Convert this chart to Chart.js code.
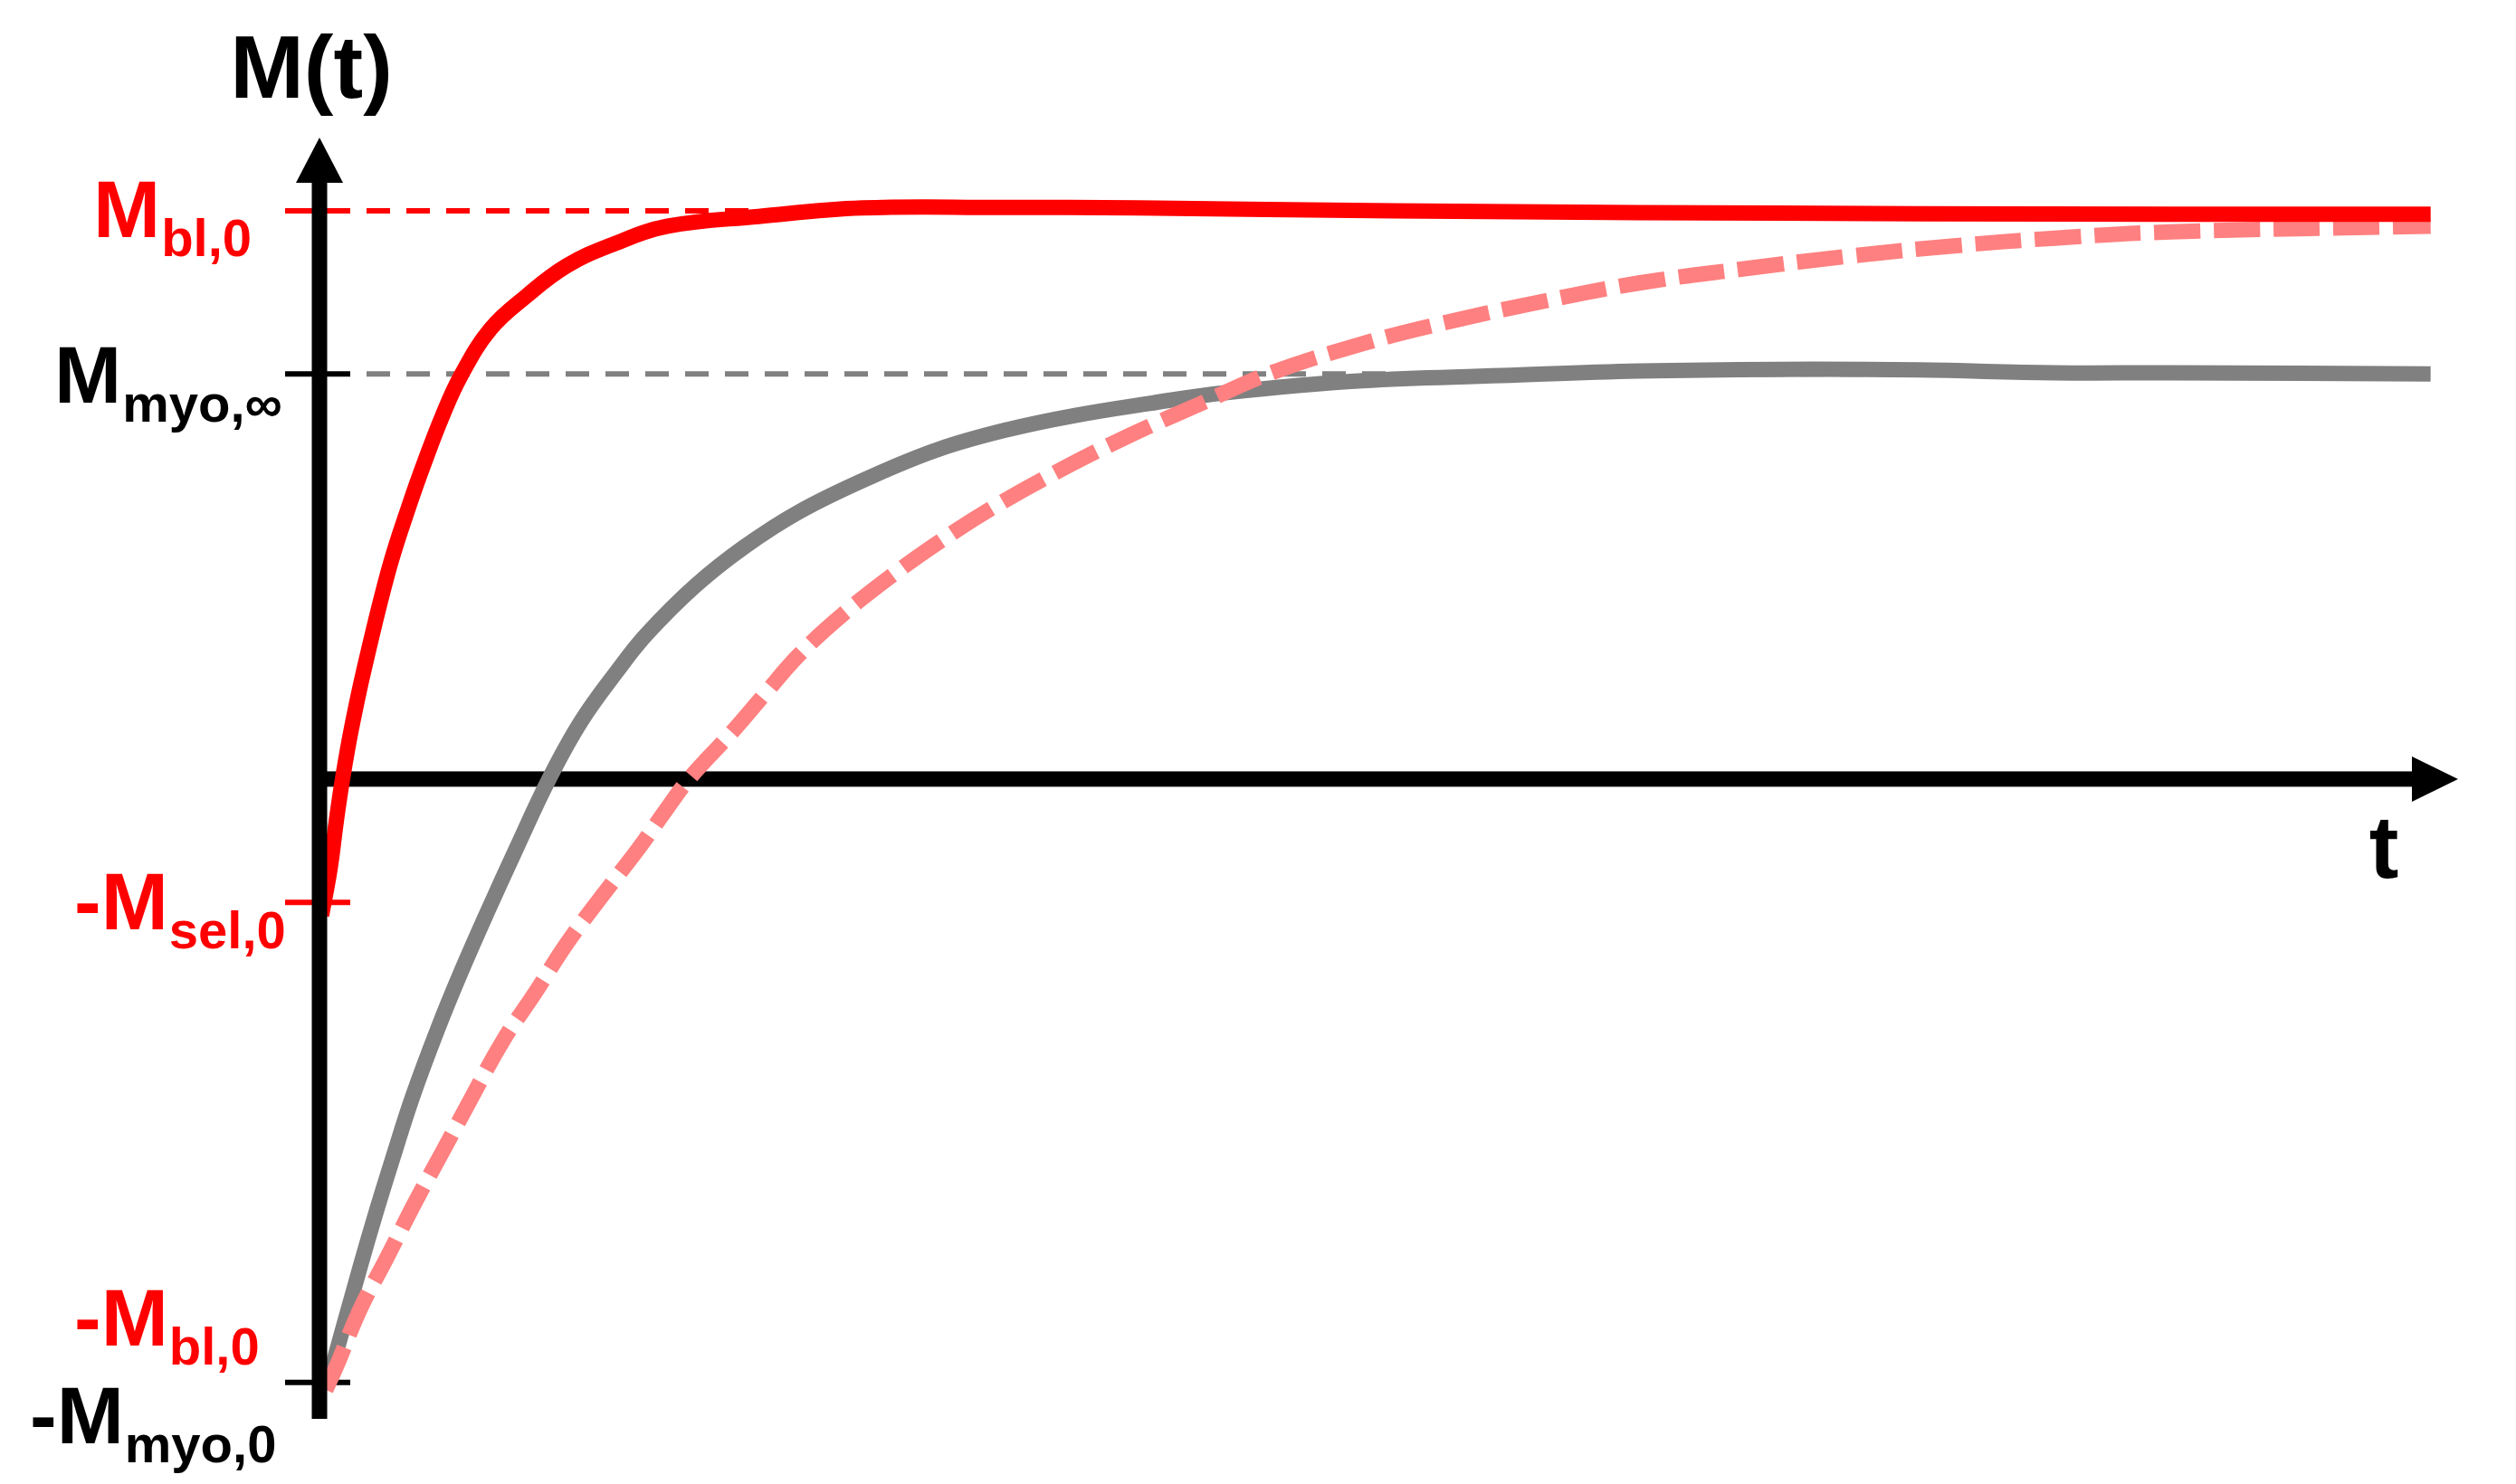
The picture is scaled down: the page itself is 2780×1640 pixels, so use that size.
<!DOCTYPE html>
<html>
<head>
<meta charset="utf-8">
<title>M(t)</title>
<script src="https://cdn.jsdelivr.net/npm/chart.js@4.4.1/dist/chart.umd.min.js"></script>
<style>
    html, body { margin: 0; padding: 0; background: #fff; }
    canvas { display: block; }
</style>
</head>
<body>
<canvas id="mChart" width="2780" height="1640"></canvas>
<script>
// Time in arbitrary units (curves end at t = 10), M normalised so that M_bl,0 = 1

// Blood, red solid
const bloodT = [0.01, 0.05, 0.08, 0.11, 0.15, 0.21, 0.33, 0.43, 0.50, 0.58, 0.67, 0.81, 0.98, 1.17, 1.39, 1.65, 2.08, 2.57, 3.22, 3.88, 5.09, 6.25, 7.57, 8.77, 10.0];
const bloodM = [-0.24, -0.158, -0.073, 0.002, 0.086, 0.191, 0.371, 0.487, 0.56, 0.637, 0.71, 0.792, 0.850, 0.903, 0.941, 0.973, 0.990, 1.005, 1.006, 1.005, 1.000, 0.997, 0.995, 0.994, 0.994];

// Myocardium, grey solid
const myoT = [0.04, 0.19, 0.27, 0.35, 0.44, 0.56, 0.67, 0.80, 0.93, 1.09, 1.24, 1.41, 1.55, 1.78, 2.01, 2.27, 2.60, 2.93, 3.26, 3.58, 3.93, 4.29, 4.94, 5.60, 6.25, 6.91, 7.57, 8.22, 8.77, 10.0];
const myoM = [-1.062, -0.862, -0.760, -0.664, -0.56, -0.44, -0.34, -0.23, -0.124, 0.002, 0.102, 0.19, 0.255, 0.34, 0.408, 0.470, 0.530, 0.580, 0.615, 0.640, 0.661, 0.680, 0.701, 0.710, 0.718, 0.721, 0.720, 0.715, 0.715, 0.713];

// Blood after selective inversion, pink dashed
const selT = [0.03, 0.09, 0.19, 0.32, 0.45, 0.59, 0.72, 0.87, 1.02, 1.17, 1.34, 1.52, 1.64, 1.75, 1.95, 2.11, 2.27, 2.47, 2.70, 2.93, 3.19, 3.52, 3.85, 4.17, 4.51, 4.94, 5.27, 5.76, 6.25, 6.75, 7.24, 7.73, 8.22, 8.77, 10.0];
const selM = [-1.075, -1.025, -0.935, -0.842, -0.747, -0.651, -0.561, -0.460, -0.377, -0.290, -0.205, -0.118, -0.055, 0.0, 0.081, 0.150, 0.218, 0.287, 0.355, 0.416, 0.478, 0.546, 0.607, 0.660, 0.715, 0.766, 0.798, 0.838, 0.873, 0.898, 0.920, 0.938, 0.952, 0.963, 0.973];

// Marked levels on the M axis
const tickValues = [1, 0.713, -0.217, -1.062];
const tickColors = ['#ff0000', '#000000', '#ff0000', '#000000'];

// Dashed guides at the steady states
const guideValues = [1, 0.713];
const guideColors = ['#ff0000', '#808080'];

// Level labels: main part, subscript, level, colour
const labelMain = ['M', 'M', '-M', '-M', '-M'];
const labelSub = ['bl,0', 'myo,\u221e', 'sel,0', 'bl,0', 'myo,0'];
const labelLevel = [1, 0.713, -0.217, -1.062, -1.062];
const labelColors = ['#ff0000', '#000000', '#ff0000', '#ff0000', '#000000'];

const X_MAX = 10.13;
const Y_MIN = -1.126;
const Y_MAX = 1.129;

function toPoints(xs, ys) {
    return xs.map((t, i) => ({ x: t, y: ys[i] }));
}

// label placement (pixels from the M axis / level line)
const labelLeft = [-250, -293, -271, -271, -320];
const labelDy = [29, 32, 30, -41, 67];

const FONT = '"Liberation Sans", Arial, sans-serif';

/**
 * Hand drawn style axes with arrow heads, ticks, guides and labels
 */
const sketchAxes = {
    id: 'sketchAxes',
    beforeDatasetsDraw(chart) {
        const { ctx, chartArea, scales: { x, y } } = chart;
        const x0 = x.getPixelForValue(0);
        const y0 = y.getPixelForValue(0);
        const xEnd = x.getPixelForValue(10);

        ctx.save();

        // dashed guides
        ctx.lineWidth = 6;
        ctx.setLineDash([26, 18]);
        guideValues.forEach((v, i) => {
            const py = y.getPixelForValue(v);
            ctx.strokeStyle = guideColors[i];
            ctx.beginPath();
            ctx.moveTo(x0 + 52, py);
            ctx.lineTo(xEnd, py);
            ctx.stroke();
        });
        ctx.setLineDash([]);

        // ticks
        tickValues.forEach((v, i) => {
            const py = y.getPixelForValue(v);
            ctx.strokeStyle = tickColors[i];
            ctx.beginPath();
            ctx.moveTo(x0 - 38, py);
            ctx.lineTo(x0 + 34, py);
            ctx.stroke();
        });

        // t axis with arrow
        const tip = chartArea.right;
        ctx.fillStyle = '#000';
        ctx.fillRect(x0, y0 - 8.5, tip - 51 - x0, 17);
        ctx.beginPath();
        ctx.moveTo(tip, y0);
        ctx.lineTo(tip - 51, y0 - 25);
        ctx.lineTo(tip - 51, y0 + 25);
        ctx.closePath();
        ctx.fill();

        // axis titles
        ctx.textBaseline = 'alphabetic';
        ctx.textAlign = 'center';
        ctx.font = 'bold 98px ' + FONT;
        ctx.fillText('M(t)', x0 - 9, chartArea.top - 44);
        ctx.fillText('t', tip - 82, y0 + 109);

        // level labels with subscripts
        ctx.textAlign = 'left';
        labelMain.forEach((main, i) => {
            const px = x0 + labelLeft[i];
            const py = y.getPixelForValue(labelLevel[i]) + labelDy[i];
            ctx.fillStyle = labelColors[i];
            ctx.font = 'bold 89px ' + FONT;
            ctx.fillText(main, px, py);
            const w = ctx.measureText(main).width;
            ctx.font = 'bold 58px ' + FONT;
            ctx.fillText(labelSub[i], px + w + 1, py + 21);
        });

        ctx.restore();
    },
    afterDatasetsDraw(chart) {
        const { ctx, chartArea, scales: { x } } = chart;
        const x0 = x.getPixelForValue(0);
        const top = chartArea.top;

        // M axis with arrow, drawn over the curve starts
        ctx.save();
        ctx.fillStyle = '#000';
        ctx.fillRect(x0 - 8.5, top + 50, 17, chartArea.bottom - top - 50);
        ctx.beginPath();
        ctx.moveTo(x0, top);
        ctx.lineTo(x0 - 26, top + 50);
        ctx.lineTo(x0 + 26, top + 50);
        ctx.closePath();
        ctx.fill();
        ctx.restore();
    }
};

const lineStyle = {
    borderWidth: 17,
    pointRadius: 0,
    fill: false,
    tension: 0.4,
    borderCapStyle: 'butt',
    borderJoinStyle: 'round'
};

new Chart(document.getElementById('mChart'), {
    type: 'line',
    data: {
        datasets: [
            { ...lineStyle, label: 'blood', data: toPoints(bloodT, bloodM), borderColor: '#ff0000', order: 0 },
            { ...lineStyle, label: 'blood, selective', data: toPoints(selT, selM), borderColor: '#ff8080', borderDash: [51, 15], order: 1 },
            { ...lineStyle, label: 'myocardium', data: toPoints(myoT, myoM), borderColor: '#808080', order: 2 }
        ]
    },
    options: {
        responsive: false,
        animation: false,
        devicePixelRatio: 1,
        layout: {
            padding: { left: 353, right: 64, top: 152, bottom: 72 }
        },
        plugins: {
            legend: { display: false },
            tooltip: { enabled: false }
        },
        scales: {
            x: { type: 'linear', min: 0, max: X_MAX, display: false },
            y: { type: 'linear', min: Y_MIN, max: Y_MAX, display: false }
        }
    },
    plugins: [sketchAxes]
});
</script>
</body>
</html>
